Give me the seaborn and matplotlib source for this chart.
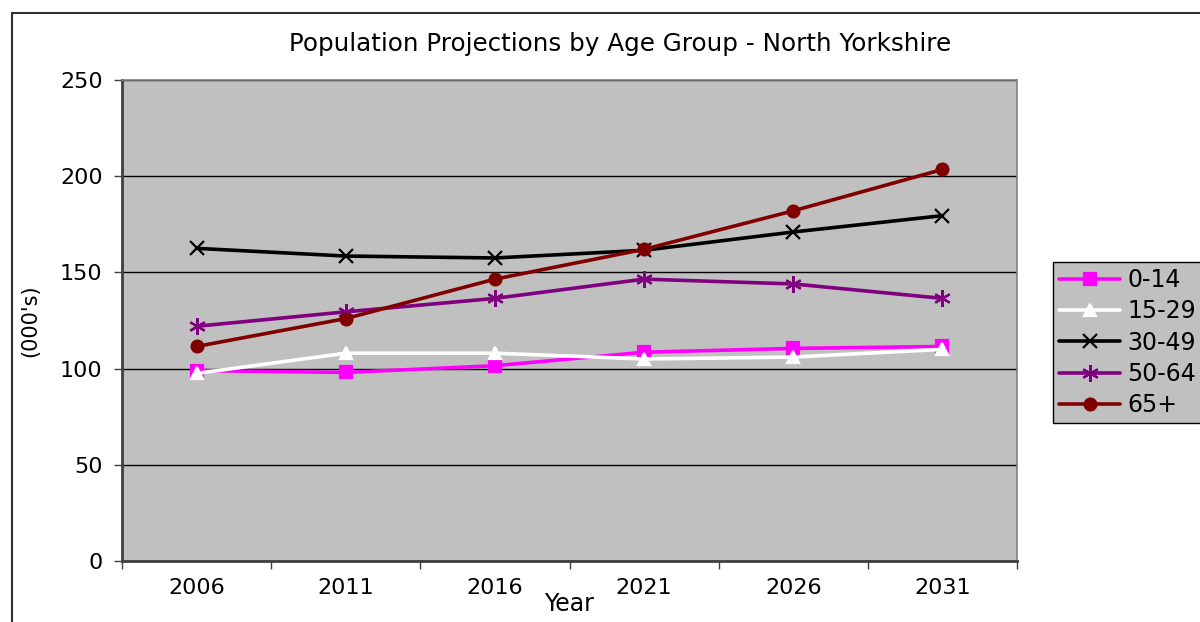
import pandas as pd
import numpy as np
import matplotlib.pyplot as plt
import seaborn as sns
from matplotlib.patches import Rectangle

years = ["2006", "2011", "2016", "2021", "2026", "2031"]
groups = ["0-14", "15-29", "30-49", "50-64", "65+"]
age_0_14 = [99, 98, 101.5, 108.5, 110.5, 111.5]
age_15_29 = [97.5, 108, 108, 105, 106, 110]
age_30_49 = [162.5, 158.5, 157.5, 161.5, 171, 179.5]
age_50_64 = [122, 129.5, 136.5, 146.5, 144, 136.5]
age_65_plus = [111.5, 126, 146.5, 162, 182, 203.5]

colors = {"0-14": "#FF00FF", "15-29": "#FFFFFF", "30-49": "#000000",
          "50-64": "#800080", "65+": "#800000"}
markers = ["s", "^", "x", (6, 2, 0), "o"]
msizes = [8, 9, 10, 12, 8.5]

df = pd.DataFrame({
    "Year": years * len(groups),
    "Group": np.repeat(groups, len(years)),
    "Pop": age_0_14 + age_15_29 + age_30_49 + age_50_64 + age_65_plus,
})

sns.set_style("white")
plt.rcParams["font.family"] = ["DejaVu Sans"]
plt.rcParams["text.color"] = "black"
plt.rcParams["xtick.color"] = "black"
plt.rcParams["ytick.color"] = "black"
plt.rcParams["axes.labelcolor"] = "black"

fig = plt.figure(figsize=(12, 6.22), dpi=100)
ax = fig.add_axes([122 / 1200, 1 - 561 / 622, (1017 - 122) / 1200, (561 - 80) / 622])
ax.set_facecolor("#C0C0C0")

sns.pointplot(data=df, x="Year", y="Pop", hue="Group", order=years,
              hue_order=groups, palette=colors, markers=markers,
              linestyles="-", errorbar=None, ax=ax,
              linewidth=2.6, markersize=8, markeredgewidth=1.6)

ax.set_ylim(0, 250)
ax.set_xlim(-0.5, len(years) - 0.5)
ax.set_yticks(np.arange(0, 251, 50))
ax.yaxis.grid(True, color="black", linewidth=1)
ax.set_axisbelow(True)

ax.set_xticks(np.arange(-0.5, len(years)), labels=[""] * (len(years) + 1))
ax.set_xticks(np.arange(len(years)), labels=years, minor=True)
ax.tick_params(axis="x", which="major", length=6, width=1, color="#404040", direction="out", bottom=True)
ax.tick_params(axis="x", which="minor", length=0, pad=12, labelsize=16)
ax.tick_params(axis="y", length=6, width=1, color="#404040", direction="out", left=True, pad=8, labelsize=16)

for side in ["left", "bottom"]:
    ax.spines[side].set_color("#404040")
    ax.spines[side].set_linewidth(2)
for side in ["top", "right"]:
    ax.spines[side].set_color("#808080")
    ax.spines[side].set_linewidth(1.2)
    ax.spines[side].set_visible(True)

ax.set_xlabel("Year", fontsize=17, labelpad=-4)
ax.set_ylabel("(000's)", fontsize=15, labelpad=14)
fig.text(620 / 1200, 1 - 44 / 622, "Population Projections by Age Group - North Yorkshire",
         ha="center", va="center", fontsize=17.7)

for line, ms in zip(ax.lines, msizes):
    line.set_markersize(ms)

handles, labels = ax.get_legend_handles_labels()
leg = ax.legend(handles, labels, loc="upper left",
                bbox_to_anchor=(1053 / 1200, 1 - 262 / 622), bbox_transform=fig.transFigure,
                fontsize=17, frameon=True, fancybox=False, facecolor="#C0C0C0",
                edgecolor="black", framealpha=1, handlelength=2.6, labelspacing=0.31,
                handletextpad=0.3, borderpad=0.25, borderaxespad=0)
leg.get_frame().set_linewidth(1)
for line, ms in zip(leg.get_lines(), msizes):
    line.set_markersize(ms)

fig.patches.append(Rectangle((12 / 1200, -0.1), 1.2, 1 - 13 / 622 + 0.1,
                             transform=fig.transFigure, fill=False,
                             edgecolor="#303030", linewidth=1.5))

fig.savefig("out.png", dpi=100)
